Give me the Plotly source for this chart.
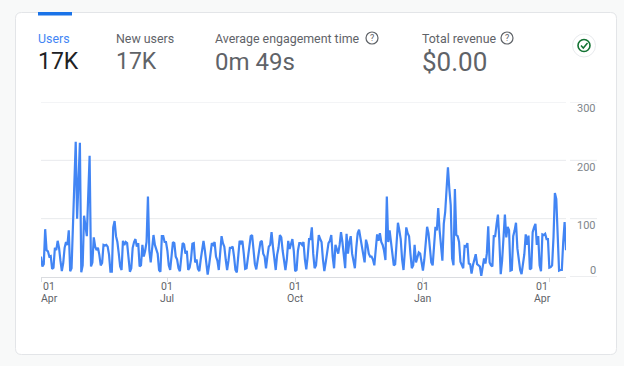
import pandas as pd
import plotly.graph_objects as go

START_DATE = "2023-04-01"
users = [
    35,18,22,82,46,44,35, 36,14,16,50,46,62,50, 28,10,24,50,60,55,80,
    10,15,95,165,232,100,170, 230,8,20,105,90,70,140, 208,18,25,68,52,46,50,
    38,20,24,55,54,55,52, 38,9,9,85,96,70,60, 40,18,12,62,55,60,58,
    25,9,15,50,60,65,52, 58,18,20,55,35,45,60, 138,45,25,55,72,55,45,
    40,12,9,70,70,60,60, 45,20,12,35,60,58,35, 30,15,10,35,58,56,40,
    45,12,16,30,57,58,25, 30,14,10,30,50,62,45, 22,4,20,42,58,55,60,
    35,28,12,35,70,58,52, 30,12,28,50,50,52,35, 12,8,30,62,58,62,40,
    14,15,36,55,70,72,50, 22,13,28,42,60,62,40, 35,15,35,52,55,77,52,
    28,12,38,50,72,68,45, 25,12,30,62,48,55,65, 45,10,12,45,58,58,55,
    60,30,13,35,65,65,85, 40,15,20,50,72,65,60, 30,10,25,45,58,62,72,
    35,15,55,45,40,55,77, 60,30,15,74,40,60,70, 40,25,15,50,75,81,65,
    55,40,25,64,55,40,35, 35,30,20,50,73,62,75, 60,55,45,29,138,60,80,
    62,40,20,22,60,93,80, 65,30,12,45,85,75,70, 40,15,20,55,25,35,42,
    40,25,11,30,60,86,75, 45,25,20,50,86,80,118, 80,55,28,91,111,150,188,
    151,123,32,20,151,72,70, 60,26,20,15,53,52,58, 23,22,6,20,32,39,22,
    20,18,2,15,32,23,40, 87,25,20,18,70,70,90, 107,63,5,28,60,107,68,
    86,80,11,12,70,80,93, 49,30,12,5,25,39,73, 55,71,13,15,77,85,91,
    55,70,20,10,73,72,74, 65,65,16,17,20,68,144, 134,70,11,12,12,60,94,
    46,
]
y_ticks = [0, 100, 200, 300]
y_labels = ["0", "100", "200", "300"]
x_ticks = ["2023-04-01", "2023-07-01", "2023-10-01", "2024-01-01", "2024-04-01"]
x_day = ["01", "01", "01", "01", "01"]
x_month = ["Apr", "Jul", "Oct", "Jan", "Apr"]
x_label_shift = [8, 0, 0, 0, -7]
metric_names = ["Users", "New users", "Average engagement time", "Total revenue"]
metric_values = ["17K", "17K", "0m 49s", "$0.00"]
metric_x = [36.5, 114.5, 213.5, 420.5]
metric_sizes = [23, 23, 24, 26]
name_colors = ["#4285f4", "#5f6368", "#5f6368", "#5f6368"]
value_colors = ["#202124", "#5f6368", "#5f6368", "#5f6368"]
help_x = [372, 507]

W, H = 624, 366
FONT = "Roboto"
dates = pd.date_range(START_DATE, periods=len(users), freq="D")
px = lambda v: v / W
py = lambda v: 1 - v / H

fig = go.Figure(go.Scatter(x=dates, y=users, mode="lines",
                           line=dict(color="#4285f4", width=2.2), hoverinfo="skip"))

shapes, ann = [], []
def text(x, y, s, size, color, anchor="left", xshift=0):
    ann.append(dict(xref="paper", yref="paper", x=px(x), y=py(y), text=s, showarrow=False,
                    xanchor=anchor, yanchor="middle", borderpad=0, xshift=xshift,
                    font=dict(family=FONT, size=size, color=color)))

# card
L, T, R, B, r = 15.5, 12.5, 616.5, 354.5, 6
path = (f"M{px(L+r)},{py(T)} L{px(R-r)},{py(T)} Q{px(R)},{py(T)} {px(R)},{py(T+r)} "
        f"L{px(R)},{py(B-r)} Q{px(R)},{py(B)} {px(R-r)},{py(B)} L{px(L+r)},{py(B)} "
        f"Q{px(L)},{py(B)} {px(L)},{py(B-r)} L{px(L)},{py(T+r)} Q{px(L)},{py(T)} {px(L+r)},{py(T)} Z")
shapes.append(dict(type="path", xref="paper", yref="paper", path=path, fillcolor="white",
                   line=dict(color="#e3e5e8", width=1), layer="below"))
shapes.append(dict(type="rect", xref="paper", yref="paper", x0=px(38), x1=px(72), y0=py(15.5), y1=py(12),
                   fillcolor="#1a73e8", line_width=0, layer="below"))

# metrics
for x, n, v, nc, vc, sz in zip(metric_x, metric_names, metric_values, name_colors, value_colors, metric_sizes):
    text(x, 38.5, n, 12.4, nc)
    text(x, 62, v, sz, vc)

# help icons
for x in help_x:
    shapes.append(dict(type="circle", xref="paper", yref="paper", x0=px(x-6), x1=px(x+6), y0=py(44), y1=py(32),
                       line=dict(color="#5f6368", width=1.2)))
    text(x, 38, "?", 9, "#5f6368", anchor="center")

# status badge
shapes.append(dict(type="circle", xref="paper", yref="paper", x0=px(572.5), x1=px(595.5), y0=py(57), y1=py(34),
                   fillcolor="white", line=dict(color="#e8eaed", width=1)))
shapes.append(dict(type="circle", xref="paper", yref="paper", x0=px(578), x1=px(590), y0=py(51.5), y1=py(39.5),
                   line=dict(color="#137333", width=1.6)))
shapes.append(dict(type="path", xref="paper", yref="paper",
                   path=f"M{px(581)},{py(45.5)} L{px(583.3)},{py(48)} L{px(587.5)},{py(43)}",
                   line=dict(color="#137333", width=1.5)))

# grid lines and right side labels
for v, lab in zip(y_ticks, y_labels):
    stub_color = "#dadce0" if v == 0 else "#e8eaed"
    shapes.append(dict(type="line", xref="paper", yref="y", x0=px(570), x1=px(597), y0=v, y1=v,
                       line=dict(color=stub_color, width=1), layer="below"))
    if v > 0:
        shapes.append(dict(type="line", xref="paper", yref="y", x0=px(41), x1=px(566), y0=v, y1=v,
                           line=dict(color="#e8eaed", width=1), layer="below"))
    ann.append(dict(xref="paper", yref="y", x=px(597), y=v, text=lab, showarrow=False, xanchor="right",
                    yanchor="middle", yshift=7 if v == 0 else -7, borderpad=0,
                    font=dict(family=FONT, size=11, color="#80868b")))

# x ticks
for d, a, b, s in zip(x_ticks, x_day, x_month, x_label_shift):
    ann.append(dict(xref="x", yref="paper", x=d, y=py(286.5), text=a, showarrow=False, xanchor="center",
                    yanchor="middle", xshift=s, borderpad=0, font=dict(family=FONT, size=10.5, color="#5f6368")))
    ann.append(dict(xref="x", yref="paper", x=d, y=py(298.5), text=b, showarrow=False, xanchor="center",
                    yanchor="middle", xshift=s, borderpad=0, font=dict(family=FONT, size=10.5, color="#5f6368")))

fig.update_layout(
    width=W, height=H, margin=dict(l=0, r=0, t=0, b=0), showlegend=False,
    paper_bgcolor="#f8f9f9", plot_bgcolor="rgba(0,0,0,0)", shapes=shapes, annotations=ann,
    xaxis=dict(domain=[px(41), px(566)], range=[dates[0], dates[-1]], tickvals=x_ticks, ticktext=[""] * 5,
               ticks="outside", ticklen=4, tickcolor="#dadce0", showgrid=False, zeroline=False,
               showline=True, linecolor="#dadce0", linewidth=1),
    yaxis=dict(domain=[py(277), py(102)], range=[0, 300], tickvals=y_ticks, ticktext=[""] * 4,
               showgrid=False, zeroline=False, side="right", ticks=""),
)
fig.write_html("out.html", config={"displayModeBar": False},
               post_script="document.body.style.margin='0';document.body.style.background='#f8f9f9';")
